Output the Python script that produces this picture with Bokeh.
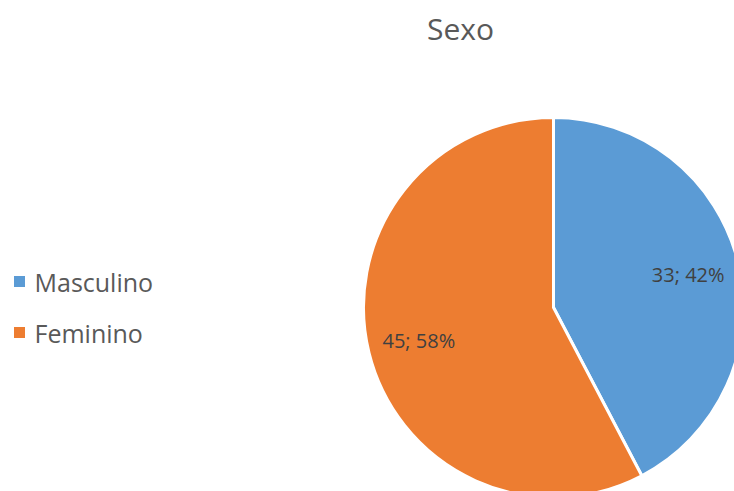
import math
from bokeh.plotting import figure
from bokeh.models import Range1d, ColumnDataSource
from bokeh.core.properties import value
from bokeh.embed import file_html
from bokeh.resources import INLINE

title = "Sexo"
categories = ["Masculino", "Feminino"]
counts = [33, 45]
colors = ["#5B9BD5", "#ED7D31"]

W, H = 734, 491
p = figure(width=W, height=H, output_backend="svg", toolbar_location=None,
           x_range=Range1d(0, W), y_range=Range1d(0, H), min_border=0)
p.axis.visible = False
p.grid.visible = False
p.outline_line_color = None
p.background_fill_color = "white"
p.border_fill_color = "white"

total = sum(counts)
cx, cy, r = 553, 184, 190
starts, ends, lx, ly, labels = [], [], [], [], []
cum = 0.0
for c in counts:
    a0 = math.pi / 2 - 2 * math.pi * cum / total
    a1 = math.pi / 2 - 2 * math.pi * (cum + c) / total
    starts.append(a1)
    ends.append(a0)
    mid = (a0 + a1) / 2
    lx.append(cx + 0.73 * r * math.cos(mid))
    ly.append(cy + 0.73 * r * math.sin(mid))
    labels.append(f"{c}; {round(100 * c / total)}%")
    cum += c

src = ColumnDataSource(dict(start=starts, end=ends, color=colors))
p.wedge(x=cx, y=cy, radius=r, start_angle="start", end_angle="end",
        fill_color="color", line_color="white", line_width=3, source=src)

p.text(x=lx, y=ly, text=labels, text_align="center", text_baseline="middle",
       text_font=value("Open Sans"), text_font_size="20px", text_color="#404040")

# title
p.text(x=[460], y=[H - 28], text=[title], text_align="center", text_baseline="middle",
       text_font=value("Open Sans"), text_font_size="30px", text_color="#595959")

# legend
leg_y = [H - 281, H - 332]
p.rect(x=[19] * 2, y=leg_y, width=11, height=11, fill_color=colors, line_color=None)
p.text(x=[34] * 2, y=leg_y, text=categories, text_align="left", text_baseline="middle",
       text_font=value("Open Sans"), text_font_size="25px", text_color="#595959")

open("out.html", "w").write(file_html(p, INLINE))
